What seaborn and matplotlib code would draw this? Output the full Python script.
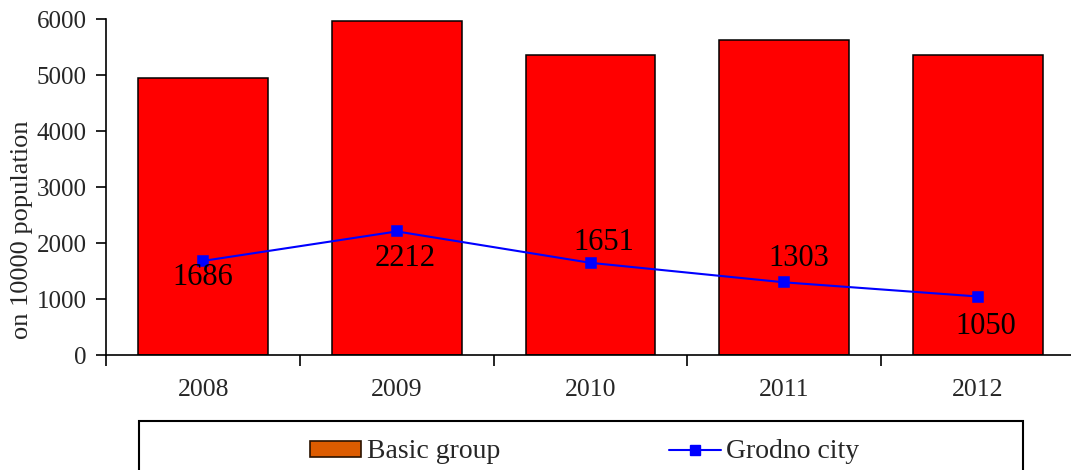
import matplotlib
matplotlib.use('Agg')
import matplotlib.pyplot as plt
import seaborn as sns
import pandas as pd
from matplotlib.patches import Patch, Rectangle
from matplotlib.lines import Line2D

# Chart data
years = ['2008', '2009', '2010', '2011', '2012']
basic_group = [4960, 5970, 5370, 5630, 5370]
grodno_city = [1686, 2212, 1651, 1303, 1050]

# label offsets (pixels) relative to each Grodno point
label_dx = [0, 8, 13, 15, 8]
label_dy = [-17, -27, 20, 24, -30]

sns.set_style('white')
plt.rcParams['font.family'] = ['Liberation Serif', 'DejaVu Serif']

df = pd.DataFrame({'year': years, 'basic': basic_group, 'grodno': grodno_city})

fig = plt.figure(figsize=(10.71, 4.70), dpi=100)
ax = fig.add_axes([106.3 / 1071, 1 - 355.3 / 470, 968.5 / 1071, 336 / 470])

sns.barplot(data=df, x='year', y='basic', color='#FF0000', saturation=1,
            edgecolor='black', linewidth=1.1, width=0.67, ax=ax)
sns.pointplot(data=df, x='year', y='grodno', color='#0000FF', marker='s',
              markersize=7, linewidth=1.5, ax=ax)

for i, v in enumerate(grodno_city):
    ax.annotate(str(v), xy=(i, v), xytext=(label_dx[i], label_dy[i]),
                textcoords='offset pixels', ha='center', va='center',
                fontsize=22, color='black', zorder=5)

ax.set_xlim(-0.5, 4.5)
ax.set_ylim(0, 6000)
ax.set_yticks(range(0, 6001, 1000))
ax.set_xticks(range(len(years)))
ax.set_xticklabels(years)
ax.set_xticks([i + 0.5 for i in range(-1, len(years))], minor=True)
ax.tick_params(axis='x', which='major', length=0, pad=17, labelsize=18.5)
ax.tick_params(axis='x', which='minor', length=8, width=1.2, direction='out',
               bottom=True, color='black')
ax.tick_params(axis='y', length=7, width=1.2, direction='out', pad=7,
               labelsize=18, left=True, color='black')

ax.set_xlabel('')
ax.set_ylabel('on 10000 population', fontsize=19)
ax.yaxis.set_label_coords(-0.0754, 0.373)

for side in ['top', 'right']:
    ax.spines[side].set_visible(False)
for side in ['left', 'bottom']:
    ax.spines[side].set_color('black')
    ax.spines[side].set_linewidth(1.2)

# legend (box is cut by the bottom edge of the figure)
handles = [
    Patch(facecolor='#DD5C00', edgecolor='#2a1200', linewidth=1.2),
    Line2D([0], [0], color='#0000FF', marker='s', markersize=7, linewidth=1.5),
]
fig.legend(handles, ['Basic group', 'Grodno city'], ncol=2, frameon=False,
           loc='center left', bbox_to_anchor=(310 / 1071, 1 - 452 / 470),
           fontsize=20, handlelength=1.84, handleheight=0.5, handletextpad=0.2,
           columnspacing=6.1, borderpad=0, borderaxespad=0)
fig.add_artist(Rectangle((139 / 1071, -0.1), (1023 - 139) / 1071, 0.1 + 1 - 421 / 470,
                         transform=fig.transFigure, fill=False,
                         edgecolor='black', linewidth=1.5))

fig.savefig('out.png', dpi=100)
plt.close(fig)
